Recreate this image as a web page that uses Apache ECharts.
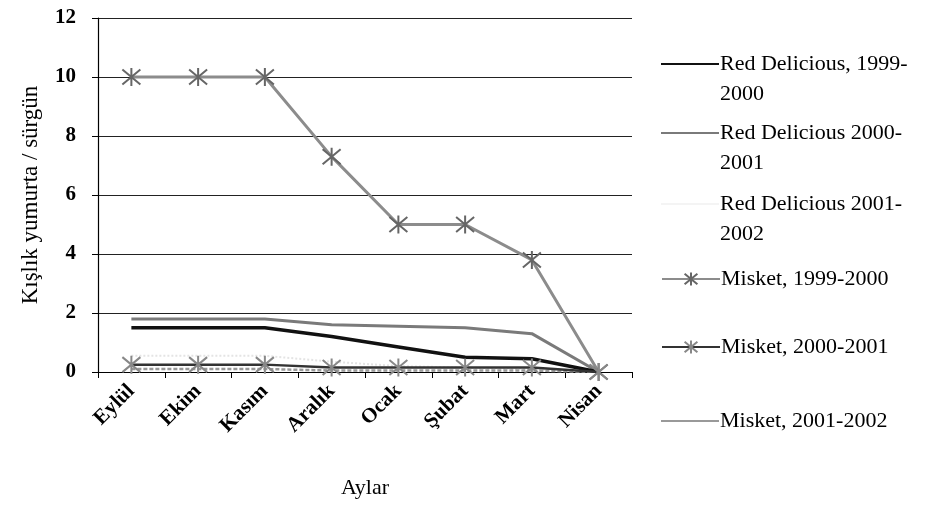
<!DOCTYPE html>
<html>
<head>
<meta charset="utf-8">
<script src="https://cdn.jsdelivr.net/npm/echarts@6/dist/echarts.min.js"></script>
<style>html,body{margin:0;padding:0;background:#fff}#c{width:952px;height:512px}</style>
</head>
<body>
<div id="c"></div>
<script>
var months = ['Eylül', 'Ekim', 'Kasım', 'Aralık', 'Ocak', 'Şubat', 'Mart', 'Nisan'];
var yTicks = [0, 2, 4, 6, 8, 10, 12];
var seriesNames = ['Red Delicious, 1999-2000', 'Red Delicious 2000-2001', 'Red Delicious 2001-2002',
                   'Misket, 1999-2000', 'Misket, 2000-2001', 'Misket, 2001-2002'];
var rd9900 = [1.5, 1.5, 1.5, 1.2, 0.85, 0.5, 0.45, 0];
var rd0001 = [1.8, 1.8, 1.8, 1.6, 1.55, 1.5, 1.3, 0];
var rd0102 = [0.55, 0.55, 0.55, 0.35, 0.2, 0.15, 0.1, 0];
var mi9900 = [10, 10, 10, 7.3, 5, 5, 3.8, 0];
var mi0001 = [0.25, 0.25, 0.25, 0.15, 0.15, 0.15, 0.15, 0];
var mi0102 = [0.1, 0.1, 0.1, 0.05, 0.05, 0.05, 0.05, 0];

var legendLabels = {
  'Red Delicious, 1999-2000': '\nRed Delicious, 1999-\n2000',
  'Red Delicious 2000-2001': '\nRed Delicious 2000-\n2001',
  'Red Delicious 2001-2002': '\nRed Delicious 2001-\n2002',
  'Misket, 1999-2000': 'Misket, 1999-2000',
  'Misket, 2000-2001': 'Misket, 2000-2001',
  'Misket, 2001-2002': 'Misket, 2001-2002'
};
var legendTops = [14, 83, 154, 259, 327, 401];
var lineOnlyIcon = [true, true, true, false, false, true];

var FONT = "'Liberation Serif', 'Times New Roman', serif";
var STAR = 'path://M0,0L10,10M10,0L0,10M5,-1L5,11';

var chart = echarts.init(document.getElementById('c'), null, {renderer: 'canvas'});

var legends = seriesNames.map(function (n, i) {
  var item = lineOnlyIcon[i] ? {name: n, icon: 'rect'} : {name: n};
  return {
    data: [item],
    orient: 'vertical',
    left: 656,
    top: legendTops[i],
    itemWidth: 58,
    itemHeight: lineOnlyIcon[i] ? 2 : 16,
    itemGap: 0,
    formatter: function (name) { return legendLabels[name]; },
    textStyle: {fontFamily: FONT, fontSize: 22, color: '#000', lineHeight: 30, padding: [0, 0, 0, -4]}
  };
});

chart.setOption({
  animation: false,
  backgroundColor: '#fff',
  grid: {left: 98, right: 320, top: 18, bottom: 140, containLabel: false},
  legend: legends,
  xAxis: {
    type: 'category',
    data: months,
    boundaryGap: true,
    name: 'Aylar',
    nameLocation: 'middle',
    nameGap: 105,
    nameTextStyle: {fontFamily: FONT, fontSize: 22, color: '#000'},
    axisLine: {lineStyle: {color: '#000', width: 1.2}},
    axisTick: {show: true, alignWithLabel: false, length: 6, lineStyle: {color: '#000'}},
    axisLabel: {rotate: 45, margin: 16, fontFamily: FONT, fontSize: 21, fontWeight: 'bold', color: '#000'},
    splitLine: {show: false}
  },
  yAxis: {
    type: 'value',
    min: yTicks[0],
    max: yTicks[yTicks.length - 1],
    interval: 2,
    name: 'Kışlık yumurta / sürgün',
    nameLocation: 'middle',
    nameRotate: 90,
    nameGap: 56,
    nameTextStyle: {fontFamily: FONT, fontSize: 23, color: '#000'},
    axisLine: {show: true, lineStyle: {color: '#000', width: 1.2}},
    axisTick: {show: true, length: 6, lineStyle: {color: '#000'}},
    axisLabel: {margin: 22, fontFamily: FONT, fontSize: 21, fontWeight: 'bold', color: '#000'},
    splitLine: {show: true, lineStyle: {color: '#222', width: 1.2}}
  },
  series: [
    {name: seriesNames[0], type: 'line', data: rd9900, symbol: 'none',
     lineStyle: {color: '#111', width: 3.5}, itemStyle: {color: '#111'}, z: 5},
    {name: seriesNames[1], type: 'line', data: rd0001, symbol: 'none',
     lineStyle: {color: '#7a7a7a', width: 3}, itemStyle: {color: '#7a7a7a'}, z: 4},
    {name: seriesNames[2], type: 'line', data: rd0102, symbol: 'none',
     lineStyle: {color: '#e4e4e4', width: 2, type: 'dotted'}, itemStyle: {color: '#f4f4f4'}, z: 2},
    {name: seriesNames[3], type: 'line', data: mi9900, symbol: STAR, symbolSize: 18,
     lineStyle: {color: '#8c8c8c', width: 3}, itemStyle: {color: '#fff', borderColor: '#666', borderWidth: 2}, z: 6},
    {name: seriesNames[4], type: 'line', data: mi0001, symbol: STAR, symbolSize: 18,
     lineStyle: {color: '#333', width: 2.5}, itemStyle: {color: '#fff', borderColor: '#888', borderWidth: 2}, z: 6},
    {name: seriesNames[5], type: 'line', data: mi0102, symbol: 'none',
     lineStyle: {color: '#999', width: 2.5, type: [4, 2]}, itemStyle: {color: '#999'}, z: 3}
  ]
});
</script>
</body>
</html>
